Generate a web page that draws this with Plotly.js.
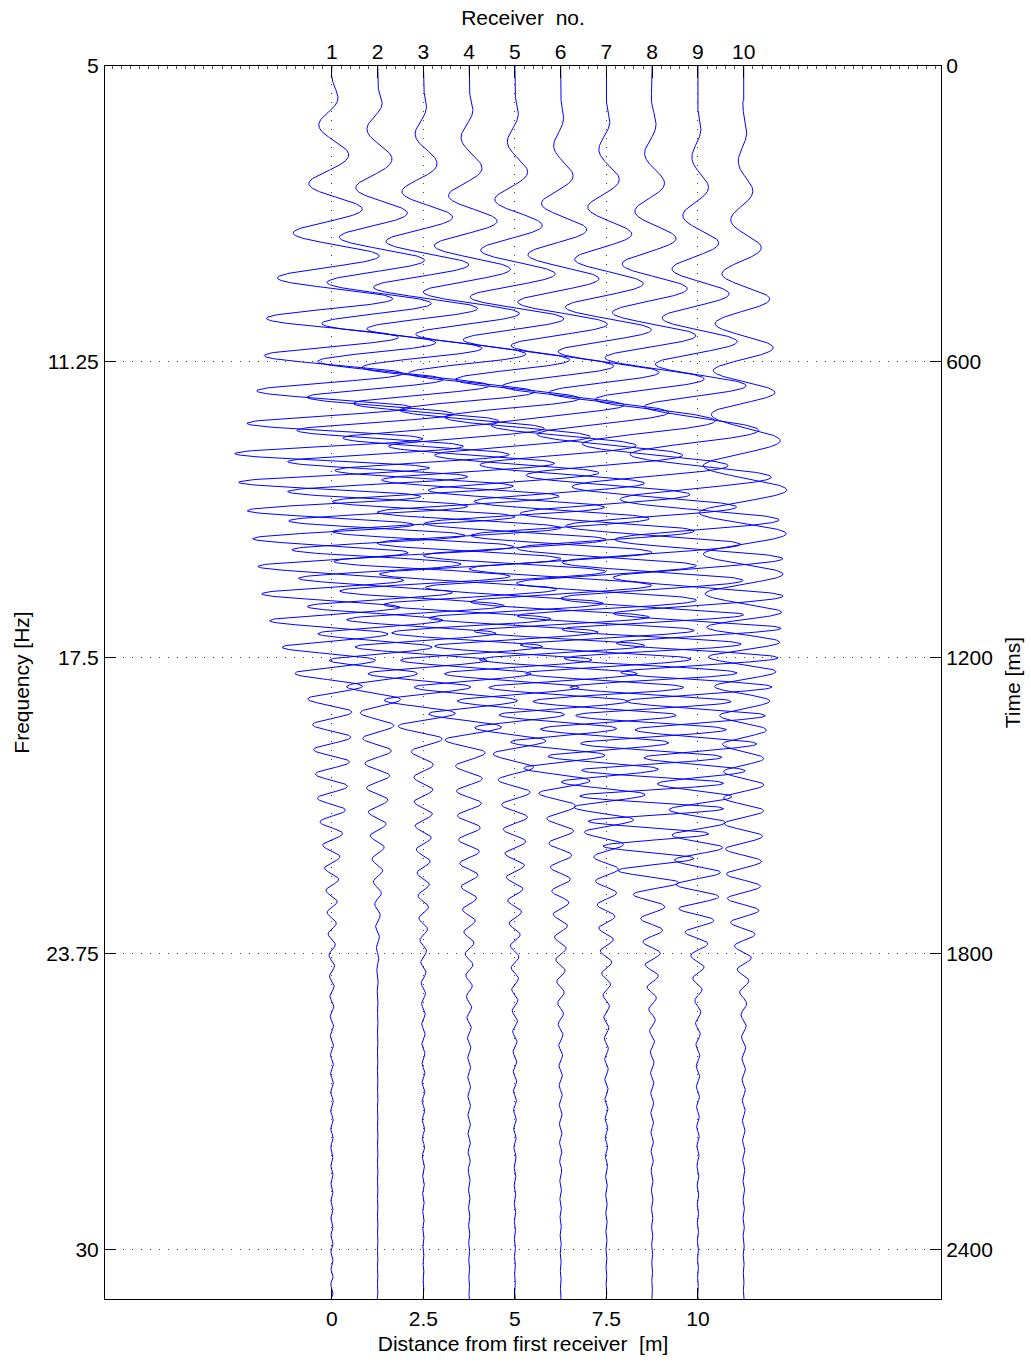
<!DOCTYPE html>
<html><head><meta charset="utf-8">
<script src="https://cdn.plot.ly/plotly-3.0.1.min.js"></script>
<style>html,body{margin:0;padding:0;background:#fff}#chart{width:1031px;height:1362px}</style>
</head><body><div id="chart"></div>
<script>
// ---- data ----
const receiverNo = ['1','2','3','4','5','6','7','8','9','10'];
const receiverPos = [0, 1.25, 2.5, 3.75, 5, 6.25, 7.5, 8.75, 10, 11.25];      // m
const distTicks = [0, 2.5, 5, 7.5, 10];
const distTickText = ['0', '2.5', '5', '7.5', '10'];
const timeTicks = [0, 600, 1200, 1800, 2400];
const timeTickText = ['0', '600', '1200', '1800', '2400'];
const freqTickText = ['5', '11.25', '17.5', '23.75', '30'];
// instantaneous frequency of the recorded sweep (Hz) vs. time (ms), read from peak spacing
const freqKnotMs = [0, 180, 300, 400, 480, 550, 630, 700, 760, 820, 900, 1000, 1100, 1200, 1400, 1600, 1800, 2000, 2500];
const freqKnotHz = [8, 8.2, 10.2, 11, 12.3, 13.3, 14, 15.4, 16.4, 17.2, 17.5, 17.8, 18.3, 18.8, 20, 21.5, 23.5, 26, 30];
const startPhaseCycles = -0.2;
// travel-time delay between neighbouring receivers (ms) vs. time (ms)
const delayKnotMs = [0, 300, 500, 700, 900, 1100, 1400, 2500];
const delayPerReceiverMs = [8, 8, 10, 13, 20, 26, 28, 28];
// amplitude envelope (m) of each trace vs. time (ms)
const envKnotMs = [0, 40, 100, 200, 300, 400, 500, 600, 700, 800, 900, 1000, 1100, 1200, 1300, 1400, 1500, 1600, 1700, 1800, 1900, 2000, 2200, 2500];
const env1  = [0,0.08,0.33,0.49,0.87,1.37,1.78,1.86,2.19,2.73,2.32,2.05,1.86,1.23,0.55,0.49,0.38,0.22,0.14,0.08,0.05,0.04,0.03,0.03];
const env2  = [0,0,0.25,0.41,0.82,1.31,1.50,1.64,2.05,2.46,2.46,2.32,1.91,1.37,0.49,0.36,0.27,0.16,0.08,0.03,0.01,0.01,0.01,0.01];
const env3  = [0,0,0.14,0.38,0.77,1.23,1.50,1.64,1.97,2.40,2.51,2.46,2.19,1.78,0.96,0.27,0.25,0.19,0.14,0.08,0.05,0.04,0.03,0.01];
const env4  = [0,0,0.14,0.33,0.71,1.09,1.37,1.58,1.91,2.32,2.51,2.51,2.32,1.91,1.23,0.38,0.33,0.27,0.19,0.11,0.07,0.04,0.03,0.01];
const env5  = [0,0,0.11,0.30,0.66,1.04,1.31,1.50,1.86,2.24,2.46,2.51,2.40,2.13,1.50,0.55,0.36,0.27,0.19,0.11,0.08,0.05,0.03,0.01];
const env6  = [0,0,0.08,0.27,0.60,0.96,1.23,1.42,1.78,2.19,2.40,2.51,2.46,2.24,1.78,1.20,0.40,0.30,0.22,0.14,0.08,0.05,0.03,0.01];
const env7  = [0,0,0.08,0.27,0.55,0.90,1.15,1.37,1.69,2.13,2.35,2.46,2.46,2.32,1.97,1.60,0.90,0.35,0.25,0.16,0.08,0.05,0.03,0.01];
const env8  = [0,0,0.08,0.25,0.49,0.82,1.09,1.31,1.64,2.05,2.32,2.46,2.51,2.40,2.13,1.90,2.00,1.20,0.35,0.22,0.10,0.05,0.03,0.01];
const env9  = [0,0,0.05,0.19,0.41,0.68,0.96,1.15,1.50,1.91,2.19,2.32,2.32,2.19,1.91,1.50,0.80,0.65,0.55,0.20,0.08,0.05,0.03,0.01];
const env10 = [0,0,0.05,0.16,0.33,0.55,0.77,0.82,0.87,1.09,1.23,1.09,1.04,0.96,0.68,0.55,0.55,0.49,0.44,0.22,0.08,0.05,0.03,0.01];
const envelopes = [env1, env2, env3, env4, env5, env6, env7, env8, env9, env10];
const recordLengthMs = 2500;

// ---- build the wiggle traces ----
function interp(xs, ys, x) {
  if (x <= xs[0]) return ys[0];
  for (let i = 1; i < xs.length; i++) {
    if (x <= xs[i]) { const r = (x - xs[i-1]) / (xs[i] - xs[i-1]); return ys[i-1] + r * (ys[i] - ys[i-1]); }
  }
  return ys[ys.length - 1];
}
const phase = [startPhaseCycles];
for (let t = 1; t <= recordLengthMs; t++) phase.push(phase[t-1] + interp(freqKnotMs, freqKnotHz, t - 0.5) / 1000);
function phaseAt(tp) {
  const i = Math.floor(tp), r = tp - i;
  return phase[i] + r * (phase[Math.min(i + 1, recordLengthMs)] - phase[i]);
}

const BLUE = '#0000ff';
const data = [];
for (let k = 0; k < receiverPos.length; k++) {
  const xs = [], ys = [];
  for (let t = 0; t <= recordLengthMs; t++) {
    const tp = t - k * interp(delayKnotMs, delayPerReceiverMs, t);
    const s = tp < 0 ? 0 : Math.sin(2 * Math.PI * phaseAt(tp));
    xs.push(receiverPos[k] + interp(envKnotMs, envelopes[k], t) * s);
    ys.push(t);
  }
  data.push({type: 'scatter', mode: 'lines', x: xs, y: ys, line: {color: BLUE, width: 1}, hoverinfo: 'skip', showlegend: false});
}
// empty trace so the top / right axes exist
data.push({type: 'scatter', mode: 'lines', x: [], y: [], xaxis: 'x2', yaxis: 'y2', showlegend: false, hoverinfo: 'skip'});

const FONT = 'Liberation Sans, Arial, Helvetica, sans-serif';
const xRange = [-6.2, 16.64];
const yRange = [2500, 0];
const GRID = {showgrid: true, gridcolor: '#444', gridwidth: 1, griddash: '1px,8px'};
const layout = {
  width: 1031, height: 1362,
  margin: {l: 105, r: 90, t: 66, b: 63},
  paper_bgcolor: '#fff', plot_bgcolor: '#fff',
  font: {family: FONT, size: 21, color: '#000'},
  showlegend: false,
  xaxis: Object.assign({range: xRange, tickmode: 'array', tickvals: distTicks, ticktext: distTickText,
    ticks: 'inside', ticklen: 11, tickcolor: '#000', showline: true, linecolor: '#000', linewidth: 1,
    zeroline: false, ticklabelstandoff: 1,
    title: {text: 'Distance from first receiver  [m]', font: {size: 21}, standoff: 7}}, GRID),
  xaxis2: {range: xRange, overlaying: 'x', side: 'top', anchor: 'y', tickmode: 'array', tickvals: receiverPos, ticktext: receiverNo,
    ticks: 'inside', ticklen: 12, tickcolor: '#000', showline: true, linecolor: '#000', linewidth: 1,
    minor: {ticks: 'inside', ticklen: 3, dtick: 0.25, tick0: 0, tickcolor: '#555', showgrid: false},
    showgrid: false, zeroline: false, ticklabelstandoff: -2,
    title: {text: 'Receiver  no.', font: {size: 21}, standoff: 8}},
  yaxis: Object.assign({range: yRange, tickmode: 'array', tickvals: timeTicks, ticktext: freqTickText,
    ticks: 'inside', ticklen: 11, tickcolor: '#000', showline: true, linecolor: '#000', linewidth: 1,
    zeroline: false, ticklabelstandoff: 1,
    title: {text: 'Frequency [Hz]', font: {size: 21}, standoff: 10}}, GRID),
  yaxis2: {range: yRange, overlaying: 'y', side: 'right', anchor: 'x', tickmode: 'array', tickvals: timeTicks, ticktext: timeTickText,
    ticks: 'inside', ticklen: 11, tickcolor: '#000', showline: true, linecolor: '#000', linewidth: 1,
    showgrid: false, zeroline: false, ticklabelstandoff: 0,
    title: {text: 'Time [ms]', font: {size: 21}, standoff: 13}}
};
Plotly.newPlot('chart', data, layout, {staticPlot: true, displayModeBar: false});
</script></body></html>
